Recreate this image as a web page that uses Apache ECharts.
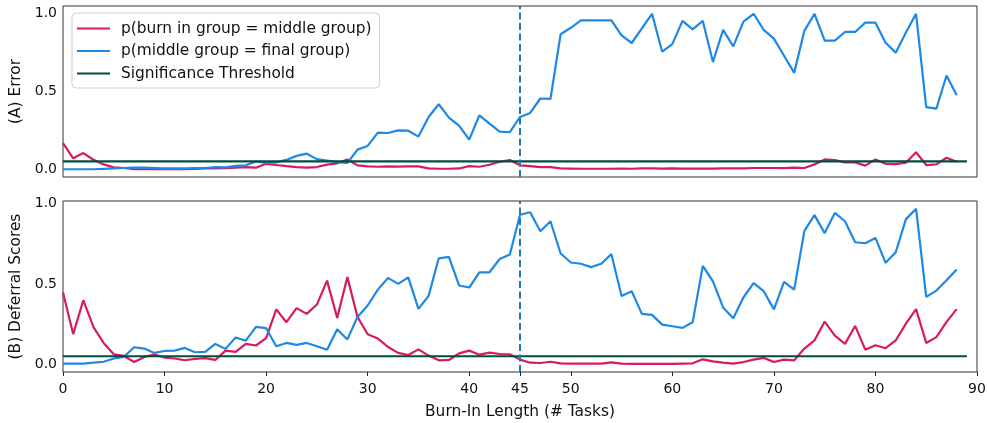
<!DOCTYPE html>
<html>
<head>
<meta charset="utf-8">
<script src="https://cdn.jsdelivr.net/npm/echarts@6/dist/echarts.min.js"></script>
<style>
html,body{margin:0;padding:0;background:#fff;}
#chart{width:987px;height:423px;}
</style>
</head>
<body>
<div id="chart"></div>
<script>
// ---------- DATA ----------
const burnIn = [0,1,2,3,4,5,6,7,8,9,10,11,12,13,14,15,16,17,18,19,20,21,22,23,24,25,26,27,28,29,30,31,32,33,34,35,36,37,38,39,40,41,42,43,44,45,46,47,48,49,50,51,52,53,54,55,56,57,58,59,60,61,62,63,64,65,66,67,68,69,70,71,72,73,74,75,76,77,78,79,80,81,82,83,84,85,86,87,88];

// (A) Error
const errBurnMid = [0.168,0.07,0.104,0.061,0.031,0.012,0.008,0.0,0.0,0.0,0.0,0.0,0.0,0.002,0.005,0.005,0.007,0.01,0.014,0.01,0.035,0.027,0.02,0.014,0.01,0.014,0.03,0.038,0.063,0.025,0.018,0.016,0.018,0.017,0.018,0.018,0.005,0.003,0.003,0.005,0.02,0.016,0.029,0.048,0.059,0.025,0.02,0.014,0.014,0.005,0.004,0.003,0.003,0.003,0.003,0.004,0.003,0.005,0.006,0.004,0.005,0.004,0.004,0.004,0.004,0.005,0.005,0.006,0.008,0.008,0.008,0.007,0.01,0.008,0.031,0.063,0.059,0.044,0.044,0.023,0.063,0.035,0.033,0.042,0.109,0.027,0.031,0.074,0.048];
const errMidFinal = [0.0,0.0,0.0,0.0,0.002,0.005,0.008,0.01,0.01,0.008,0.006,0.006,0.006,0.007,0.008,0.014,0.012,0.022,0.025,0.05,0.04,0.044,0.06,0.086,0.1,0.065,0.056,0.046,0.04,0.126,0.15,0.235,0.233,0.25,0.248,0.21,0.336,0.418,0.332,0.28,0.19,0.347,0.294,0.242,0.238,0.336,0.362,0.455,0.453,0.868,0.91,0.958,0.958,0.958,0.958,0.861,0.812,0.906,1.0,0.756,0.805,0.954,0.9,0.954,0.69,0.896,0.79,0.95,1.0,0.896,0.84,0.73,0.62,0.89,1.0,0.827,0.827,0.883,0.883,0.943,0.943,0.814,0.75,0.88,1.0,0.40,0.39,0.603,0.476];

// (B) Deferral Scores
const defBurnMid = [0.447,0.188,0.399,0.232,0.133,0.062,0.052,0.014,0.046,0.06,0.042,0.036,0.025,0.034,0.038,0.027,0.085,0.077,0.127,0.117,0.163,0.342,0.262,0.35,0.314,0.372,0.521,0.289,0.543,0.295,0.187,0.16,0.108,0.071,0.058,0.093,0.054,0.025,0.027,0.068,0.085,0.06,0.073,0.064,0.062,0.029,0.01,0.008,0.016,0.006,0.004,0.004,0.004,0.004,0.012,0.004,0.002,0.002,0.002,0.002,0.002,0.004,0.006,0.031,0.018,0.01,0.004,0.014,0.029,0.04,0.014,0.029,0.025,0.098,0.149,0.266,0.179,0.127,0.239,0.091,0.119,0.1,0.149,0.253,0.344,0.133,0.169,0.264,0.344];
const defMidFinal = [0.004,0.004,0.004,0.01,0.016,0.036,0.046,0.106,0.098,0.071,0.083,0.085,0.102,0.075,0.077,0.127,0.096,0.167,0.147,0.233,0.225,0.112,0.133,0.121,0.133,0.112,0.091,0.218,0.155,0.295,0.366,0.465,0.538,0.501,0.541,0.345,0.426,0.66,0.669,0.491,0.478,0.573,0.573,0.656,0.684,0.931,0.947,0.829,0.891,0.69,0.634,0.626,0.605,0.626,0.686,0.426,0.455,0.314,0.308,0.247,0.237,0.227,0.262,0.613,0.517,0.354,0.287,0.416,0.505,0.455,0.342,0.513,0.465,0.831,0.929,0.817,0.943,0.891,0.76,0.754,0.787,0.632,0.698,0.904,0.968,0.42,0.459,0.523,0.59];

const thresholdX = [0, 89];
const thresholdY = [0.05, 0.05];
const burnInMarker = 45;

const xTicks = [0,10,20,30,40,45,50,60,70,80,90];
const yTicks = [0,0.5,1];

const seriesNames = ['p(burn in group = middle group)','p(middle group = final group)','Significance Threshold'];
const panelNames = ['(A) Error','(B) Deferral Scores'];
const xAxisName = 'Burn-In Length (# Tasks)';

// ---------- CHART ----------
const RED = '#D81B60', BLUE = '#1E88E5', GREEN = '#004D40', DASH = '#1f77b4';
const FONT = 'DejaVu Sans';
const zip = (xs, ys) => xs.map((x, i) => [x, ys[i]]);

const chart = echarts.init(document.getElementById('chart'), null, {renderer: 'canvas'});

function yAxisCfg(idx, min, max, name) {
  return {
    type: 'value', gridIndex: idx, min: min, max: max,
    name: name, nameLocation: 'middle', nameGap: 35, nameRotate: 90,
    nameTextStyle: {fontFamily: FONT, fontSize: 15.4, color: '#111'},
    splitLine: {show: false},
    axisLine: {show: false, onZero: false},
    axisTick: {show: false, customValues: yTicks},
    axisLabel: {show: true, margin: 6, fontFamily: FONT, fontSize: 14, color: '#111',
      customValues: yTicks, formatter: v => v.toFixed(1)}
  };
}
function xAxisCfg(idx, showLabels) {
  return {
    type: 'value', gridIndex: idx, min: 0, max: 90,
    name: showLabels ? xAxisName : '', nameLocation: 'middle', nameGap: 32,
    nameTextStyle: {fontFamily: FONT, fontSize: 15.4, color: '#111'},
    splitLine: {show: false},
    axisLine: {show: false, onZero: false},
    axisTick: {show: showLabels, length: 4, lineStyle: {color: '#222'}, customValues: xTicks},
    axisLabel: {show: showLabels, margin: 10, fontFamily: FONT, fontSize: 14, color: '#111',
      customValues: xTicks, hideOverlap: false}
  };
}
function lineSeries(name, data, color, idx, width) {
  return {
    name: name, type: 'line', xAxisIndex: idx, yAxisIndex: idx,
    data: data, symbol: 'none', showSymbol: false, smooth: false,
    lineStyle: {color: color, width: width}, itemStyle: {color: color},
    animation: false, silent: true
  };
}
function markerSeries(idx) {
  return {
    type: 'line', xAxisIndex: idx, yAxisIndex: idx, data: [], symbol: 'none',
    z: 10, animation: false, silent: true,
    markLine: {
      silent: true, symbol: ['none', 'none'], label: {show: false},
      lineStyle: {color: DASH, width: 2, type: [7, 3.5]},
      data: [{xAxis: burnInMarker}], animation: false
    }
  };
}

const option = {
  backgroundColor: '#fff',
  animation: false,
  grid: [
    {left: 63, right: 10, top: 6, height: 171, show: true, borderColor: '#333', borderWidth: 1,
      backgroundColor: 'transparent', containLabel: false, outerBoundsMode: 'none'},
    {left: 63, right: 10, top: 201, height: 171, show: true, borderColor: '#333', borderWidth: 1,
      backgroundColor: 'transparent', containLabel: false, outerBoundsMode: 'none'}
  ],
  legend: {
    data: seriesNames.map(n => ({name: n, icon: 'rect'})),
    orient: 'vertical', left: 72, top: 13,
    padding: [7, 8, 6, 5], itemGap: 5.5, itemWidth: 33, itemHeight: 2.2,
    backgroundColor: 'rgba(255,255,255,0.85)', borderColor: '#d0d0d0', borderWidth: 1, borderRadius: 4,
    textStyle: {fontFamily: FONT, fontSize: 15.4, lineHeight: 17, color: '#111', padding: [0, 0, 0, 6]},
    selectedMode: false
  },
  xAxis: [xAxisCfg(0, false), xAxisCfg(1, true)],
  yAxis: [yAxisCfg(0, -0.05, 1.05, panelNames[0]), yAxisCfg(1, -0.048, 1.017, panelNames[1])],
  series: [
    lineSeries(seriesNames[0], zip(burnIn, errBurnMid), RED, 0, 2.2),
    lineSeries(seriesNames[1], zip(burnIn, errMidFinal), BLUE, 0, 2.2),
    lineSeries(seriesNames[2], zip(thresholdX, thresholdY), GREEN, 0, 2.2),
    lineSeries(seriesNames[0], zip(burnIn, defBurnMid), RED, 1, 2.2),
    lineSeries(seriesNames[1], zip(burnIn, defMidFinal), BLUE, 1, 2.2),
    lineSeries(seriesNames[2], zip(thresholdX, thresholdY), GREEN, 1, 2.2),
    markerSeries(0),
    markerSeries(1)
  ]
};
chart.setOption(option);
</script>
</body>
</html>
